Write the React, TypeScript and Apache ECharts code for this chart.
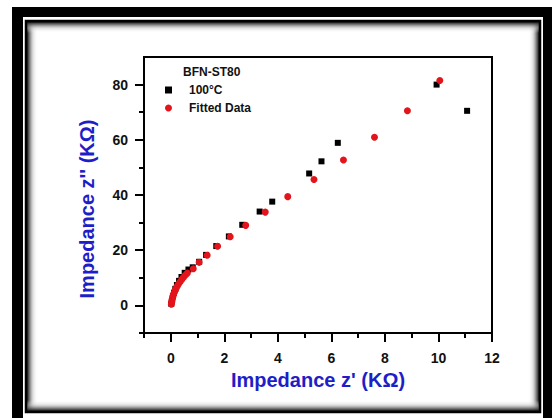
import React, { useEffect, useRef } from "react";
import * as echarts from "echarts";

// ---- data ----
const measuredX = [0.02, 0.05, 0.08, 0.12, 0.17, 0.23, 0.31, 0.4, 0.52, 0.66, 0.82, 1.06, 1.32, 1.7, 2.17, 2.67, 3.32, 3.79, 5.17, 5.63, 6.24, 9.93, 11.07];
const measuredY = [0.6, 2.0, 3.3, 4.6, 6.0, 7.4, 8.9, 10.3, 11.8, 13.0, 13.8, 15.8, 18.3, 21.5, 25.0, 29.2, 34.0, 37.6, 47.8, 52.2, 58.9, 80.0, 70.5];
const fittedX = [0.02, 0.03, 0.04, 0.05, 0.07, 0.09, 0.11, 0.14, 0.17, 0.21, 0.25, 0.3, 0.35, 0.41, 0.47, 0.54, 0.62, 0.84, 1.06, 1.36, 1.75, 2.22, 2.8, 3.53, 4.37, 5.35, 6.45, 7.61, 8.84, 10.05];
const fittedY = [0.4, 1.0, 1.6, 2.2, 2.9, 3.5, 4.2, 4.9, 5.6, 6.4, 7.1, 7.9, 8.6, 9.4, 10.1, 10.9, 11.7, 13.3, 15.6, 18.2, 21.4, 24.9, 29.0, 33.8, 39.4, 45.6, 52.7, 60.9, 70.5, 81.5];

const xMajorTicks = [0, 2, 4, 6, 8, 10, 12];
const xMinorTicks = [-1, 1, 3, 5, 7, 9, 11];
const yMajorTicks = [0, 20, 40, 60, 80];
const yMinorTicks = [-10, 10, 30, 50, 70];

const seriesNames = ["100°C", "Fitted Data"];
const legendTitle = "BFN-ST80";
const xName = "Impedance z' (KΩ)";
const yName = "Impedance z'' (KΩ)";

const FONT = "'Liberation Sans', Arial, Helvetica, sans-serif";
const BLUE = "#1e1ec8";
const RED = "#e3141b";

export default function App() {
  const ref = useRef<HTMLDivElement>(null);

  useEffect(() => {
    if (!ref.current) return;
    const chart = echarts.init(ref.current, null, { renderer: "svg" });

    const measured = measuredX.map((x, i) => [x, measuredY[i]]);
    const fitted = fittedX.map((x, i) => [x, fittedY[i]]);

    const shade = (dir: "l" | "r" | "t" | "b") => {
      const stops = [
        { offset: 0, color: "rgba(20,20,20,1)" },
        { offset: 0.2, color: "rgba(80,80,80,0.85)" },
        { offset: 0.55, color: "rgba(190,190,190,0.5)" },
        { offset: 1, color: "rgba(255,255,255,0)" },
      ];
      const g =
        dir === "l" ? [0, 0, 1, 0] : dir === "r" ? [1, 0, 0, 0] : dir === "t" ? [0, 0, 0, 1] : [0, 1, 0, 0];
      return new echarts.graphic.LinearGradient(g[0], g[1], g[2], g[3], stops);
    };

    const baseAxisX = {
      type: "value",
      min: -1,
      max: 12,
      position: "bottom",
      splitLine: { show: false },
    };
    const baseAxisY = {
      type: "value",
      min: -10,
      max: 90,
      position: "left",
      splitLine: { show: false },
    };

    chart.setOption({
      animation: false,
      backgroundColor: "#ffffff",
      title: {
        text: legendTitle,
        left: 183,
        top: 66,
        padding: 0,
        textStyle: { fontFamily: FONT, fontSize: 12, fontWeight: "bold", color: "#111" },
      },
      legend: {
        orient: "vertical",
        left: 165,
        top: 83,
        padding: 0,
        itemWidth: 7,
        itemHeight: 7,
        itemGap: 4,
        data: [
          { name: seriesNames[0], icon: "rect" },
          { name: seriesNames[1], icon: "circle" },
        ],
        textStyle: {
          fontFamily: FONT,
          fontSize: 12,
          fontWeight: "bold",
          color: "#111",
          lineHeight: 14,
          padding: [0, 0, 0, 12],
        },
      },
      grid: {
        left: 144,
        top: 57,
        right: 60,
        bottom: 85,
        show: true,
        borderColor: "#000",
        borderWidth: 2,
        backgroundColor: "transparent",
      },
      xAxis: [
        {
          ...baseAxisX,
          name: xName,
          nameLocation: "middle",
          nameGap: 35,
          nameTextStyle: { fontFamily: FONT, fontSize: 20, fontWeight: "bold", color: BLUE },
          axisLine: { show: true, onZero: false, lineStyle: { color: "#000", width: 2 } },
          axisTick: { show: true, customValues: xMajorTicks, length: 9, lineStyle: { color: "#000", width: 2 } },
          axisLabel: {
            show: true,
            customValues: xMajorTicks,
            margin: 18,
            fontFamily: FONT,
            fontSize: 14,
            fontWeight: "bold",
            color: "#111",
          },
        },
        {
          ...baseAxisX,
          axisLine: { show: false, onZero: false },
          axisTick: { show: true, customValues: xMinorTicks, length: 5, lineStyle: { color: "#000", width: 2 } },
          axisLabel: { show: false },
        },
      ],
      yAxis: [
        {
          ...baseAxisY,
          axisLine: { show: true, onZero: false, lineStyle: { color: "#000", width: 2 } },
          axisTick: { show: true, customValues: yMajorTicks, length: 9, lineStyle: { color: "#000", width: 2 } },
          axisLabel: {
            show: true,
            customValues: yMajorTicks,
            margin: 16,
            fontFamily: FONT,
            fontSize: 14,
            fontWeight: "bold",
            color: "#111",
          },
        },
        {
          ...baseAxisY,
          axisLine: { show: false, onZero: false },
          axisTick: { show: true, customValues: yMinorTicks, length: 5, lineStyle: { color: "#000", width: 2 } },
          axisLabel: { show: false },
        },
      ],
      graphic: [
        // outer thick black frame
        { type: "rect", z: -20, silent: true, shape: { x: 12, y: 7, width: 560, height: 440 }, style: { fill: "#000" } },
        { type: "rect", z: -19, silent: true, shape: { x: 23, y: 17, width: 520, height: 440 }, style: { fill: "#fff" } },
        // inner panel with inset shadow
        { type: "rect", z: -18, silent: true, shape: { x: 25, y: 20, width: 516, height: 393 }, style: { fill: "#fff" } },
        { type: "rect", z: -17, silent: true, shape: { x: 27, y: 22, width: 11, height: 389 }, style: { fill: shade("l") } },
        { type: "rect", z: -17, silent: true, shape: { x: 528, y: 22, width: 11, height: 389 }, style: { fill: shade("r") } },
        { type: "rect", z: -17, silent: true, shape: { x: 27, y: 22, width: 512, height: 11 }, style: { fill: shade("t") } },
        { type: "rect", z: -17, silent: true, shape: { x: 27, y: 400, width: 512, height: 11 }, style: { fill: shade("b") } },
        {
          type: "rect",
          z: -16,
          silent: true,
          shape: { x: 26, y: 21, width: 514, height: 391 },
          style: { fill: "none", stroke: "#000", lineWidth: 2.5 },
        },
        // y axis title
        {
          type: "text",
          z: 10,
          x: 87,
          y: 209,
          rotation: Math.PI / 2,
          style: {
            text: yName,
            fontFamily: FONT,
            fontSize: 20,
            fontWeight: "bold",
            fill: BLUE,
            align: "center",
            verticalAlign: "middle",
          },
        },
      ],
      series: [
        {
          name: seriesNames[0],
          type: "scatter",
          xAxisIndex: 0,
          yAxisIndex: 0,
          symbol: "rect",
          symbolSize: 6,
          itemStyle: { color: "#000", opacity: 1 },
          data: measured,
          z: 2,
        },
        {
          name: seriesNames[1],
          type: "scatter",
          xAxisIndex: 0,
          yAxisIndex: 0,
          symbol: "circle",
          symbolSize: 7,
          itemStyle: { color: RED, opacity: 1 },
          data: fitted,
          z: 3,
        },
      ],
    });

    return () => chart.dispose();
  }, []);

  return (
    <div
      ref={ref}
      style={{ position: "absolute", left: 0, top: 0, width: 552, height: 418, background: "#fff" }}
    />
  );
}
